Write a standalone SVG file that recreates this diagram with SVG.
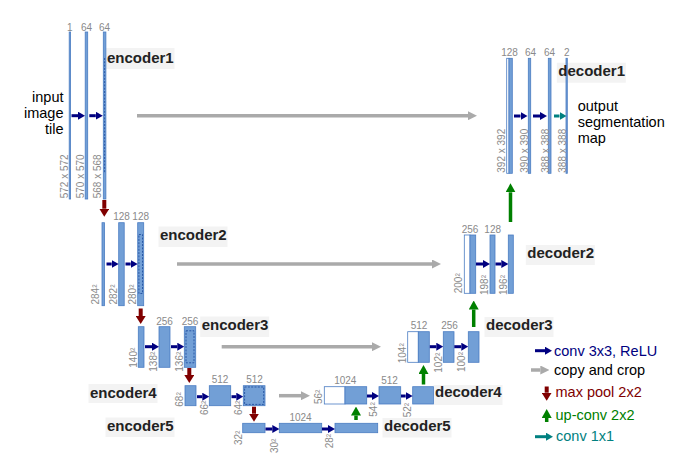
<svg xmlns="http://www.w3.org/2000/svg" width="700" height="457" viewBox="0 0 700 457">
<style>
.bar{fill:#729fd6;stroke:#4a7cc2;stroke-width:0.8}
.cp{fill:#ffffff;stroke:#4a7cc2;stroke-width:0.8}
.dot{fill:none;stroke:#2a58a6;stroke-width:1;stroke-dasharray:2 1.3}
.num{font-family:"Liberation Sans",Arial,sans-serif;font-size:10px;fill:#8a8a8a;text-anchor:middle}
.rot{font-family:"Liberation Sans",Arial,sans-serif;font-size:10px;fill:#8a8a8a}
.ttl{font-family:"Liberation Sans",Arial,sans-serif;font-size:15px;font-weight:bold;fill:#222222}
.tbg{fill:#f3f3f3}
.txt{font-family:"Liberation Sans",Arial,sans-serif;font-size:14.5px;fill:#000000}
.cb{stroke:#000080;stroke-width:3;marker-end:url(#hb)}
.cg{stroke:#aaaaaa;stroke-width:3.5;marker-end:url(#hg)}
.cr{stroke:#800000;stroke-width:4;marker-end:url(#hr)}
.cu{stroke:#008000;stroke-width:3.5;marker-end:url(#hu)}
.ct{stroke:#008080;stroke-width:3;marker-end:url(#ht)}
</style>
<defs>
<marker id="hb" markerUnits="userSpaceOnUse" markerWidth="7" markerHeight="8" refX="0" refY="4" orient="auto"><path d="M0,0 L7,4 L0,8 z" fill="#000080"/></marker>
<marker id="ht" markerUnits="userSpaceOnUse" markerWidth="7" markerHeight="8" refX="0" refY="4" orient="auto"><path d="M0,0 L7,4 L0,8 z" fill="#008080"/></marker>
<marker id="hg" markerUnits="userSpaceOnUse" markerWidth="9" markerHeight="9" refX="0" refY="4.5" orient="auto"><path d="M0,0 L9,4.5 L0,9 z" fill="#aaaaaa"/></marker>
<marker id="hr" markerUnits="userSpaceOnUse" markerWidth="8" markerHeight="10" refX="0" refY="5" orient="auto"><path d="M0,0 L8,5 L0,10 z" fill="#800000"/></marker>
<marker id="hu" markerUnits="userSpaceOnUse" markerWidth="9" markerHeight="10" refX="0" refY="5" orient="auto"><path d="M0,0 L9,5 L0,10 z" fill="#008000"/></marker>
</defs>
<rect width="700" height="457" fill="#ffffff"/>

<g id="input">
<text class="txt" text-anchor="end" x="63.5" y="101.5">input</text>
<text class="txt" text-anchor="end" x="63.5" y="117.5">image</text>
<text class="txt" text-anchor="end" x="63.5" y="133.5">tile</text>
</g>

<g id="encoder1">
<rect class="tbg" x="105.5" y="48" width="69" height="21"/>
<rect class="bar" x="69.2" y="32" width="1.4" height="167"/>
<rect class="bar" x="85.2" y="32" width="2.5" height="167"/>
<rect class="bar" x="103.3" y="32" width="2.6" height="167"/>
<line class="dot" x1="104.6" y1="58" x2="104.6" y2="173" stroke-width="2"/>
<text class="num" x="69.9" y="30.5">1</text>
<text class="num" x="86.5" y="30.5">64</text>
<text class="num" x="104.6" y="30.5">64</text>
<text class="rot" transform="translate(67.7,198.3) rotate(-90)">572 x 572</text>
<text class="rot" transform="translate(84.3,198.3) rotate(-90)">570 x 570</text>
<text class="rot" transform="translate(100.7,198.3) rotate(-90)">568 x 568</text>
<text class="ttl" x="107" y="62.7">encoder1</text>
</g>

<g id="encoder2">
<rect class="tbg" x="158.5" y="226.5" width="69" height="20.5"/>
<rect class="bar" x="102" y="222.7" width="2.5" height="83"/>
<rect class="bar" x="118.7" y="222.7" width="5.5" height="83"/>
<rect class="bar" x="137.7" y="222.7" width="6" height="83"/>
<rect class="dot" x="138.9" y="234.5" width="3.6" height="59"/>
<text class="num" x="121.5" y="219.5">128</text>
<text class="num" x="140.7" y="219.5">128</text>
<text class="rot" transform="translate(99,304.5) rotate(-90)">284²</text>
<text class="rot" transform="translate(116.7,304.5) rotate(-90)">282²</text>
<text class="rot" transform="translate(136,304.5) rotate(-90)">280²</text>
<text class="ttl" x="160" y="240">encoder2</text>
</g>

<g id="encoder3">
<rect class="tbg" x="200.2" y="316.5" width="69" height="20.5"/>
<rect class="bar" x="138.3" y="326.7" width="5.7" height="40.6"/>
<rect class="bar" x="159" y="326.7" width="11" height="40.6"/>
<rect class="bar" x="184.3" y="326.7" width="11.4" height="40.6"/>
<rect class="dot" x="186" y="330.8" width="8" height="32"/>
<text class="num" x="164.5" y="325">256</text>
<text class="num" x="190" y="325">256</text>
<text class="rot" transform="translate(136.7,367.7) rotate(-90)">140²</text>
<text class="rot" transform="translate(156.7,371.7) rotate(-90)">138²</text>
<text class="rot" transform="translate(183.3,371.7) rotate(-90)">136²</text>
<text class="ttl" x="201.7" y="330">encoder3</text>
</g>

<g id="encoder4">
<rect class="tbg" x="88.5" y="384" width="69" height="19"/>
<rect class="bar" x="185" y="385.7" width="11" height="20"/>
<rect class="bar" x="209.3" y="385.7" width="21.4" height="20"/>
<rect class="bar" x="243.3" y="385.7" width="21.7" height="20"/>
<rect class="dot" x="244.6" y="387" width="19.1" height="17.4"/>
<text class="num" x="220" y="382.5">512</text>
<text class="num" x="254.5" y="382.5">512</text>
<text class="rot" transform="translate(183.3,406.7) rotate(-90)">68²</text>
<text class="rot" transform="translate(208.3,415) rotate(-90)">66²</text>
<text class="rot" transform="translate(241.7,415) rotate(-90)">64²</text>
<text class="ttl" x="90" y="397.5">encoder4</text>
</g>

<g id="encoder5">
<rect class="tbg" x="105.5" y="417.5" width="69" height="19.5"/>
<rect class="bar" x="242.7" y="423.3" width="22.3" height="9.4"/>
<rect class="bar" x="279.3" y="423.3" width="42.4" height="9.4"/>
<rect class="bar" x="335" y="423.3" width="42.7" height="9.4"/>
<text class="num" x="300.5" y="421">1024</text>
<text class="rot" transform="translate(241.7,445) rotate(-90)">32²</text>
<text class="rot" transform="translate(278.3,453) rotate(-90)">30²</text>
<text class="rot" transform="translate(333.3,448.3) rotate(-90)">28²</text>
<text class="ttl" x="107" y="430.7">encoder5</text>
</g>

<g id="decoder5">
<rect class="tbg" x="382.5" y="418" width="69" height="19.5"/>
<text class="ttl" x="384" y="431">decoder5</text>
</g>

<g id="decoder4">
<rect class="tbg" x="433.5" y="385" width="69" height="20"/>
<rect class="cp" x="324.3" y="386.7" width="20.7" height="17.3"/>
<rect class="bar" x="345" y="386.7" width="21.7" height="17.3"/>
<rect class="bar" x="379" y="386.7" width="21.7" height="17.3"/>
<rect class="bar" x="412.7" y="386.7" width="20.7" height="17.3"/>
<text class="num" x="345.3" y="384">1024</text>
<text class="num" x="389.5" y="384">512</text>
<text class="rot" transform="translate(321.7,404) rotate(-90)">56²</text>
<text class="rot" transform="translate(377.3,416.7) rotate(-90)">54²</text>
<text class="rot" transform="translate(410.7,417.3) rotate(-90)">52²</text>
<text class="ttl" x="435" y="396.7">decoder4</text>
</g>

<g id="decoder3">
<rect class="tbg" x="484.5" y="317" width="69" height="20"/>
<rect class="cp" x="407.7" y="331.7" width="10.6" height="30.6"/>
<rect class="bar" x="418.3" y="331.7" width="11" height="30.6"/>
<rect class="bar" x="443.3" y="331.7" width="10.7" height="30.6"/>
<rect class="bar" x="468.3" y="331.7" width="10.7" height="30.6"/>
<text class="num" x="419" y="329.3">512</text>
<text class="num" x="449.5" y="329.3">256</text>
<text class="rot" transform="translate(406,363.3) rotate(-90)">104²</text>
<text class="rot" transform="translate(441.7,372.7) rotate(-90)">102²</text>
<text class="rot" transform="translate(465,372) rotate(-90)">100²</text>
<text class="ttl" x="486" y="330">decoder3</text>
</g>

<g id="decoder2">
<rect class="tbg" x="525.8" y="245" width="69" height="20"/>
<rect class="cp" x="464.3" y="235" width="5.7" height="58.3"/>
<rect class="bar" x="470" y="235" width="5.7" height="58.3"/>
<rect class="bar" x="490" y="235" width="5" height="58.3"/>
<rect class="bar" x="508.3" y="235" width="5" height="58.3"/>
<text class="num" x="470" y="232.7">256</text>
<text class="num" x="492.7" y="232.7">128</text>
<text class="rot" transform="translate(461.7,293.3) rotate(-90)">200²</text>
<text class="rot" transform="translate(488,295) rotate(-90)">198²</text>
<text class="rot" transform="translate(506.7,295) rotate(-90)">196²</text>
<text class="ttl" x="527.3" y="258.3">decoder2</text>
</g>

<g id="decoder1">
<rect class="tbg" x="556.8" y="62.7" width="69" height="20"/>
<rect class="cp" x="506.7" y="58.3" width="2.3" height="115"/>
<rect class="bar" x="509" y="58.3" width="3.3" height="115"/>
<rect class="bar" x="528.3" y="58.3" width="2.4" height="115"/>
<rect class="bar" x="548.3" y="58.3" width="2.7" height="115"/>
<rect class="bar" x="566" y="58.3" width="1.3" height="115"/>
<text class="num" x="509.5" y="56">128</text>
<text class="num" x="530.5" y="56">64</text>
<text class="num" x="549.5" y="56">64</text>
<text class="num" x="566.7" y="56">2</text>
<text class="rot" transform="translate(505,172.7) rotate(-90)">392 x 392</text>
<text class="rot" transform="translate(528.3,172.7) rotate(-90)">390 x 390</text>
<text class="rot" transform="translate(549.3,172.7) rotate(-90)">388 x 388</text>
<text class="rot" transform="translate(566,172.7) rotate(-90)">388 x 388</text>
<text class="ttl" x="558.3" y="76">decoder1</text>
</g>

<g id="output">
<text class="txt" x="577.7" y="110.7">output</text>
<text class="txt" x="577.7" y="126.7">segmentation</text>
<text class="txt" x="577.7" y="142.7">map</text>
</g>

<g id="connectors">
<line class="cb" x1="71.5" y1="115.7" x2="78" y2="115.7"/>
<line class="cb" x1="89.3" y1="115.7" x2="95.8" y2="115.7"/>
<line class="cg" x1="137" y1="115.7" x2="468" y2="115.7"/>
<line class="cr" x1="104.3" y1="200" x2="104.3" y2="208.7"/>
<line class="cb" x1="106.5" y1="264" x2="111.7" y2="264"/>
<line class="cb" x1="125.5" y1="264" x2="130.7" y2="264"/>
<line class="cg" x1="177" y1="264" x2="432" y2="264"/>
<line class="cr" x1="140.7" y1="308.5" x2="140.7" y2="316"/>
<line class="cb" x1="145" y1="346.7" x2="152" y2="346.7"/>
<line class="cb" x1="171" y1="346.7" x2="177.3" y2="346.7"/>
<line class="cg" x1="221.7" y1="346.7" x2="372" y2="346.7"/>
<line class="cr" x1="189.3" y1="368" x2="189.3" y2="375"/>
<line class="cb" x1="197" y1="396.7" x2="202.3" y2="396.7"/>
<line class="cb" x1="231.5" y1="396.7" x2="236.3" y2="396.7"/>
<line class="cg" x1="279" y1="395.7" x2="301" y2="395.7"/>
<line class="cr" x1="254" y1="406.7" x2="254" y2="413.7"/>
<line class="cb" x1="265.5" y1="429" x2="272.3" y2="429"/>
<line class="cb" x1="322" y1="429" x2="328" y2="429"/>
<line class="cu" x1="356" y1="420" x2="356" y2="415.5"/>
<line class="cb" x1="367" y1="396" x2="372" y2="396"/>
<line class="cb" x1="401" y1="396" x2="405.7" y2="396"/>
<line class="cu" x1="423.5" y1="384.5" x2="423.5" y2="374"/>
<line class="cb" x1="429.8" y1="346.7" x2="436.3" y2="346.7"/>
<line class="cb" x1="454.3" y1="346.7" x2="461.3" y2="346.7"/>
<line class="cu" x1="473.7" y1="327" x2="473.7" y2="309.5"/>
<line class="cb" x1="476" y1="264" x2="483" y2="264"/>
<line class="cb" x1="495.5" y1="264" x2="501.3" y2="264"/>
<line class="cu" x1="510.5" y1="222" x2="510.5" y2="192.3"/>
<line class="cb" x1="514" y1="116" x2="520.5" y2="116"/>
<line class="cb" x1="533" y1="116" x2="540" y2="116"/>
<line class="ct" x1="554" y1="116" x2="559.5" y2="116"/>
</g>

<g id="legend">
<line class="cb" x1="535" y1="350.7" x2="545" y2="350.7"/>
<text class="txt" x="554" y="355.5" fill="#000080" style="fill:#000080">conv 3x3, ReLU</text>
<line class="cg" x1="531" y1="370" x2="540.3" y2="370"/>
<text class="txt" x="554" y="374.5">copy and crop</text>
<line class="cr" x1="546.7" y1="386.5" x2="546.7" y2="392.7"/>
<text class="txt" x="555.5" y="397" style="fill:#800000">max pool 2x2</text>
<line class="cu" x1="546.7" y1="422" x2="546.7" y2="418"/>
<text class="txt" x="555.5" y="419.5" style="fill:#008000">up-conv 2x2</text>
<line class="ct" x1="535" y1="436.7" x2="546" y2="436.7"/>
<text class="txt" x="556" y="441" style="fill:#008080">conv 1x1</text>
</g>
</svg>
